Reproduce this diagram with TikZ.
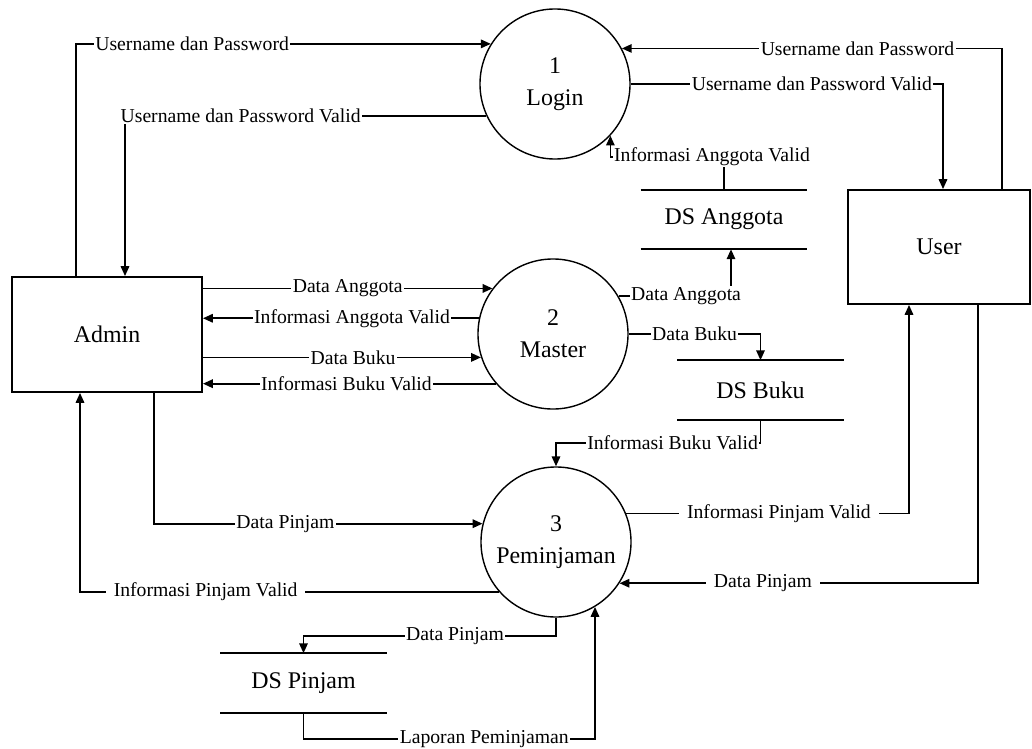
\documentclass[tikz,border=0pt]{standalone}
\usepackage{fontspec}
\setmainfont{Liberation Serif}
\usetikzlibrary{arrows.meta}
\usetikzlibrary{calc}
\tikzset{
  proc/.style={circle,draw,line width=1pt,minimum size=3.75cm,align=center,
    font=\fontsize{17}{23}\selectfont},
  entity/.style={rectangle,draw,line width=1.3pt,font=\fontsize{17}{20}\selectfont},
  store/.style={minimum width=4.15cm,minimum height=1.475cm,font=\fontsize{17}{20}\selectfont},
  flow/.style={line width=1.2pt,-{Triangle[length=7pt,width=6pt]}},
  lbl/.style={fill=white,inner sep=1pt,font=\fontsize{14}{16}\selectfont},
  lblgap/.style={lbl,inner xsep=5.5pt},
}

\begin{document}
\begin{tikzpicture}[x=0.025cm,y=-0.025cm]
  \useasboundingbox (0,0) rectangle (1032,749);
  % processes, entities, stores
  \node[proc] (login) at (555,84) {1\\Login};
  \node[proc] (master) at (553,334) {2\\Master};
  \node[proc] (pinjam) at (556,542) {3\\Peminjaman};
  \node[entity,minimum width=4.75cm,minimum height=2.875cm] (admin) at (107,334.5) {Admin};
  \node[entity,minimum width=4.55cm,minimum height=2.85cm] (user) at (939,247) {User};
  \node[store] (dsanggota) at (724,219.5) {DS Anggota};
  \node[store] (dsbuku) at (760.5,390) {DS Buku};
  \node[store] (dspinjam) at (303.5,683) {DS Pinjam};
  \foreach \s in {dsanggota,dsbuku,dspinjam}
    \draw[line width=1.2pt] (\s.north west) -- (\s.north east) (\s.south west) -- (\s.south east);
  % login
  \draw[flow] ($(admin.north)+(-31,0)$) |- node[lbl,pos=0.64] {Username dan Password} (login.148);
  \draw[flow] (login.205) -| node[lbl,pos=0.34] {Username dan Password Valid} ($(admin.north)+(18,0)$);
  \draw[flow] ($(user.north)+(63,0)$) |- node[lbl,pos=0.69] {Username dan Password} (login.28);
  \draw[flow] (login.east) -| node[lbl,pos=0.29] {Username dan Password Valid} ($(user.north)+(4,0)$);
  \draw[flow] (dsanggota.north) -- ++(0,-33) node[lbl,xshift=-3mm] {Informasi Anggota Valid} -| (login.317);
  % master
  \draw[flow] (admin.east |- master.143) -- node[lbl] {Data Anggota} (master.143);
  \draw[flow] (master.168) -- node[lbl,pos=0.46] {Informasi Anggota Valid} (admin.east |- master.168);
  \draw[flow] (admin.east |- master.198) -- node[lbl,pos=0.54] {Data Buku} (master.198);
  \draw[flow] (master.221) -- node[lbl,pos=0.51] {Informasi Buku Valid} (admin.east |- master.221);
  \draw[flow] (master.30) -| node[lbl,pos=0.3] {Data Anggota} ($(dsanggota.south)+(7,0)$);
  \draw[flow] (master.east) -| node[lbl,pos=0.25] {Data Buku} (dsbuku.north);
  \draw[flow] (dsbuku.south) -- ++(0,23) -| node[lbl,pos=0.215] {Informasi Buku Valid} (pinjam.north);
  % peminjaman
  \draw[flow] ($(admin.south)+(47,0)$) |- node[lbl,pos=0.7] {Data Pinjam} (pinjam.166);
  \draw[flow] (pinjam.221) -| node[lblgap,pos=0.35] {Informasi Pinjam Valid} ($(admin.south)+(-27,0)$);
  \draw[flow] (pinjam.22) -| node[lblgap,pos=0.27] {Informasi Pinjam Valid} ($(user.south)+(-30,0)$);
  \draw[flow] ($(user.south)+(39,0)$) |- node[lblgap,pos=0.8] {Data Pinjam} (pinjam.327);
  \draw[flow] (pinjam.south) -- ++(0,18) -| node[lbl,pos=0.2] {Data Pinjam} (dspinjam.north);
  \draw[flow] (dspinjam.south) -- ++(0,26) -| node[lbl,pos=0.31] {Laporan Peminjaman} (pinjam.301);
\end{tikzpicture}
\end{document}
